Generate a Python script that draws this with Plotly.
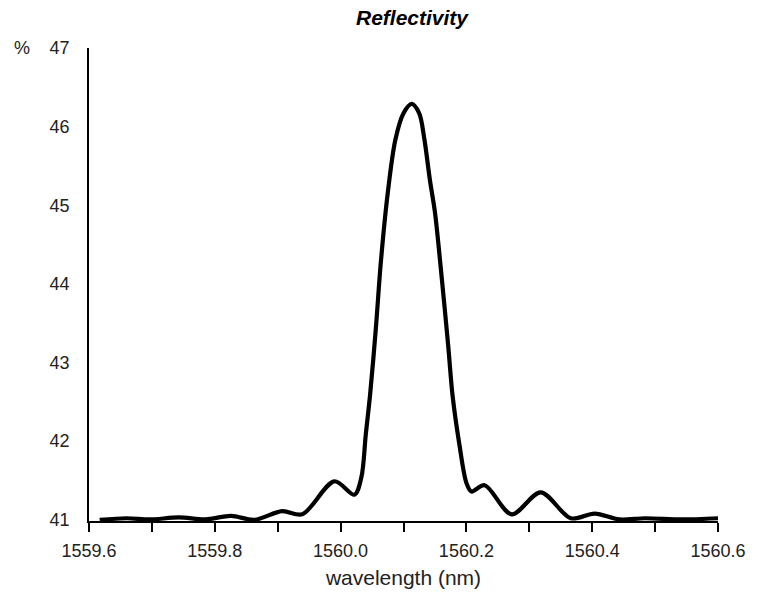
import plotly.graph_objects as go

wavelength = [1559.617, 1559.660, 1559.696, 1559.743, 1559.785, 1559.826, 1559.863,
              1559.907, 1559.939, 1559.990, 1560.022, 1560.033, 1560.040, 1560.047,
              1560.056, 1560.064, 1560.075, 1560.087, 1560.100, 1560.113,
              1560.125, 1560.133, 1560.142, 1560.150, 1560.161, 1560.171, 1560.178,
              1560.189, 1560.200, 1560.208, 1560.229, 1560.272, 1560.318, 1560.366,
              1560.404, 1560.443, 1560.484, 1560.542, 1560.600]
reflectivity = [41.0, 41.02, 41.005, 41.03, 41.005, 41.05, 41.0,
                41.11, 41.07, 41.49, 41.32, 41.54, 42.08, 42.60,
                43.43, 44.28, 45.16, 45.83, 46.17, 46.29,
                46.17, 45.85, 45.32, 44.91, 44.06, 43.22, 42.58,
                41.95, 41.47, 41.36, 41.44, 41.07, 41.35, 41.02,
                41.08, 41.005, 41.02, 41.005, 41.02]

x_ticks = [1559.6, 1559.8, 1560.0, 1560.2, 1560.4, 1560.6]
x_ticklabels = ["1559.6", "1559.8", "1560.0", "1560.2", "1560.4", "1560.6"]
y_ticks = [41, 42, 43, 44, 45, 46, 47]

FONT = "Liberation Sans, Arial, sans-serif"

fig = go.Figure()
fig.add_trace(go.Scatter(
    x=wavelength, y=reflectivity, mode="lines",
    line=dict(color="black", width=4.2, shape="spline", smoothing=0.9),
    showlegend=False, hoverinfo="x+y",
))

fig.update_layout(
    width=758, height=598,
    margin=dict(l=89, r=31, t=48, b=75),
    paper_bgcolor="white", plot_bgcolor="white",
    font=dict(family=FONT, color="#222222", size=18),
    title=dict(text="<b><i>Reflectivity</i></b>", x=412/758, xanchor="center",
               y=1 - 18/598, yanchor="middle",
               font=dict(family=FONT, size=21, color="black")),
    xaxis=dict(
        range=[1559.6, 1560.6], tickvals=x_ticks, ticktext=x_ticklabels,
        showline=True, linecolor="black", linewidth=1.5, showgrid=False, zeroline=False,
        ticks="outside", ticklen=9, tickwidth=1.5, tickcolor="black",
        minor=dict(dtick=0.1, tick0=1559.6, ticks="outside", ticklen=9, tickwidth=1.5,
                   tickcolor="black", showgrid=False),
        tickfont=dict(size=18, color="#222222"), ticklabelstandoff=4,
        title=dict(text="wavelength (nm)", font=dict(size=21, color="#222222"), standoff=10),
    ),
    yaxis=dict(
        range=[40.985, 47.0], tickvals=y_ticks,
        showline=True, linecolor="black", linewidth=1.5, showgrid=False, zeroline=False,
        ticks="", ticklabelstandoff=14,
        tickfont=dict(size=18, color="#222222"),
    ),
    annotations=[dict(text="%", xref="paper", yref="y", x=(21 - 89) / 638, y=47,
                      xanchor="center", yanchor="middle", showarrow=False,
                      font=dict(family=FONT, size=18, color="#222222"))],
)

fig.write_html("out.html")
